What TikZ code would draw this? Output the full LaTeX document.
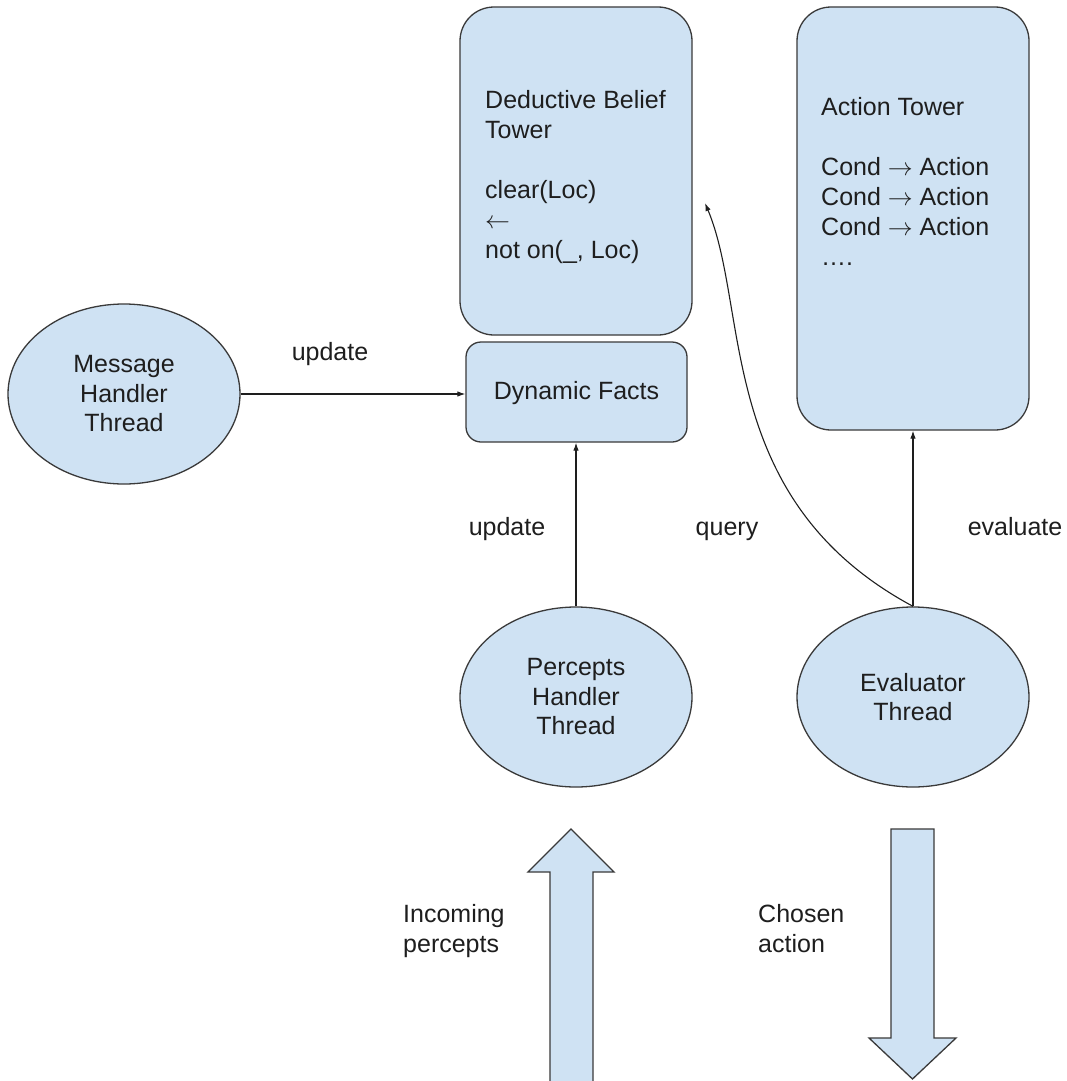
\documentclass[tikz,border=0pt]{standalone}
\usepackage{fontspec}
\setmainfont{Liberation Sans}
\usetikzlibrary{shapes.geometric,arrows.meta}

\definecolor{boxfill}{HTML}{CFE2F3}
\definecolor{boxline}{HTML}{3A3A3A}
\definecolor{ink}{HTML}{1E1E1E}

\newcommand{\ruleto}{\ensuremath{\rightarrow}}
\newcommand{\rulefrom}{\ensuremath{\leftarrow}}

\tikzset{
  shape base/.style={draw=boxline, fill=boxfill, line width=1.3pt, inner sep=0pt},
  tower/.style={shape base, rectangle, rounded corners=34pt, minimum width=232pt},
  factbox/.style={shape base, rectangle, rounded corners=15pt},
  thread/.style={shape base, ellipse, minimum width=232pt, minimum height=180pt,
    align=center, text=ink, font=\fontsize{25}{29.5}\selectfont},
  txt/.style={text=ink, font=\fontsize{25}{30}\selectfont, inner sep=0pt},
  conn/.style={draw=ink, line width=1.1pt, -{Latex[length=8pt,width=5.5pt]}},
  fat/.style={draw=boxline, fill=boxfill, line width=1.3pt, line join=miter}
}

\begin{document}
\begin{tikzpicture}[x=1pt,y=-1pt]
  \useasboundingbox[fill=white] (0,0) rectangle (1066,1081);

  % knowledge stores
  \node[tower, minimum height=328pt] (dbt) at (576,171) {};
  \node[factbox, minimum width=221pt, minimum height=100pt] (df) at (576.5,392) {};
  \node[tower, minimum height=423pt] (act) at (913,218.5) {};

  \node[txt, anchor=north west, align=left] (dbtlabel) at (485,90.5)
    {Deductive Belief\\Tower\\[30pt]clear(Loc)\\\rulefrom\\not on(\_, Loc)};
  \node[txt] (dflabel) at (576.5,393) {Dynamic Facts};
  \node[txt, anchor=north west, align=left] (actlabel) at (821,97.5)
    {Action Tower\\[30pt]Cond \ruleto{} Action\\Cond \ruleto{} Action\\Cond \ruleto{} Action\\….};

  % worker threads
  \node[thread] (msg) at (124,394) {Message\\Handler\\Thread};
  \node[thread] (perc) at (576,697) {Percepts\\Handler\\Thread};
  \node[thread] (eval) at (913,697) {Evaluator\\Thread};

  % connectors
  \coordinate (qend) at (705,203);
  \draw[conn] (msg.east) -- (df.west |- msg.east);
  \draw[conn] (perc.north) -- (perc.north |- df.south);
  \draw[conn] (eval.north) -- (eval.north |- act.south);
  \draw[conn] (eval.north) .. controls (715,500) and (750,310) .. (qend);

  % connector labels
  \node[txt, anchor=base] (lmsg) at (330,360) {update};
  \node[txt, anchor=base] (lperc) at (507,535) {update};
  \node[txt, anchor=base] (lquery) at (727,535) {query};
  \node[txt, anchor=base] (leval) at (1015,535) {evaluate};

  % data flowing in and out
  \path[fat] (550,1081) -- (550,872) -- (528,872) -- (571,829) -- (614,872)
    -- (593,872) -- (593,1081);
  \path[fat] (891,829) -- (934,829) -- (934,1038) -- (956,1038) -- (912.5,1079)
    -- (869,1038) -- (891,1038) -- cycle;
  \node[txt, anchor=north west, align=left] (lin) at (403,904)
    {Incoming\\percepts};
  \node[txt, anchor=north west, align=left] (lout) at (758,904)
    {Chosen\\action};
\end{tikzpicture}
\end{document}
